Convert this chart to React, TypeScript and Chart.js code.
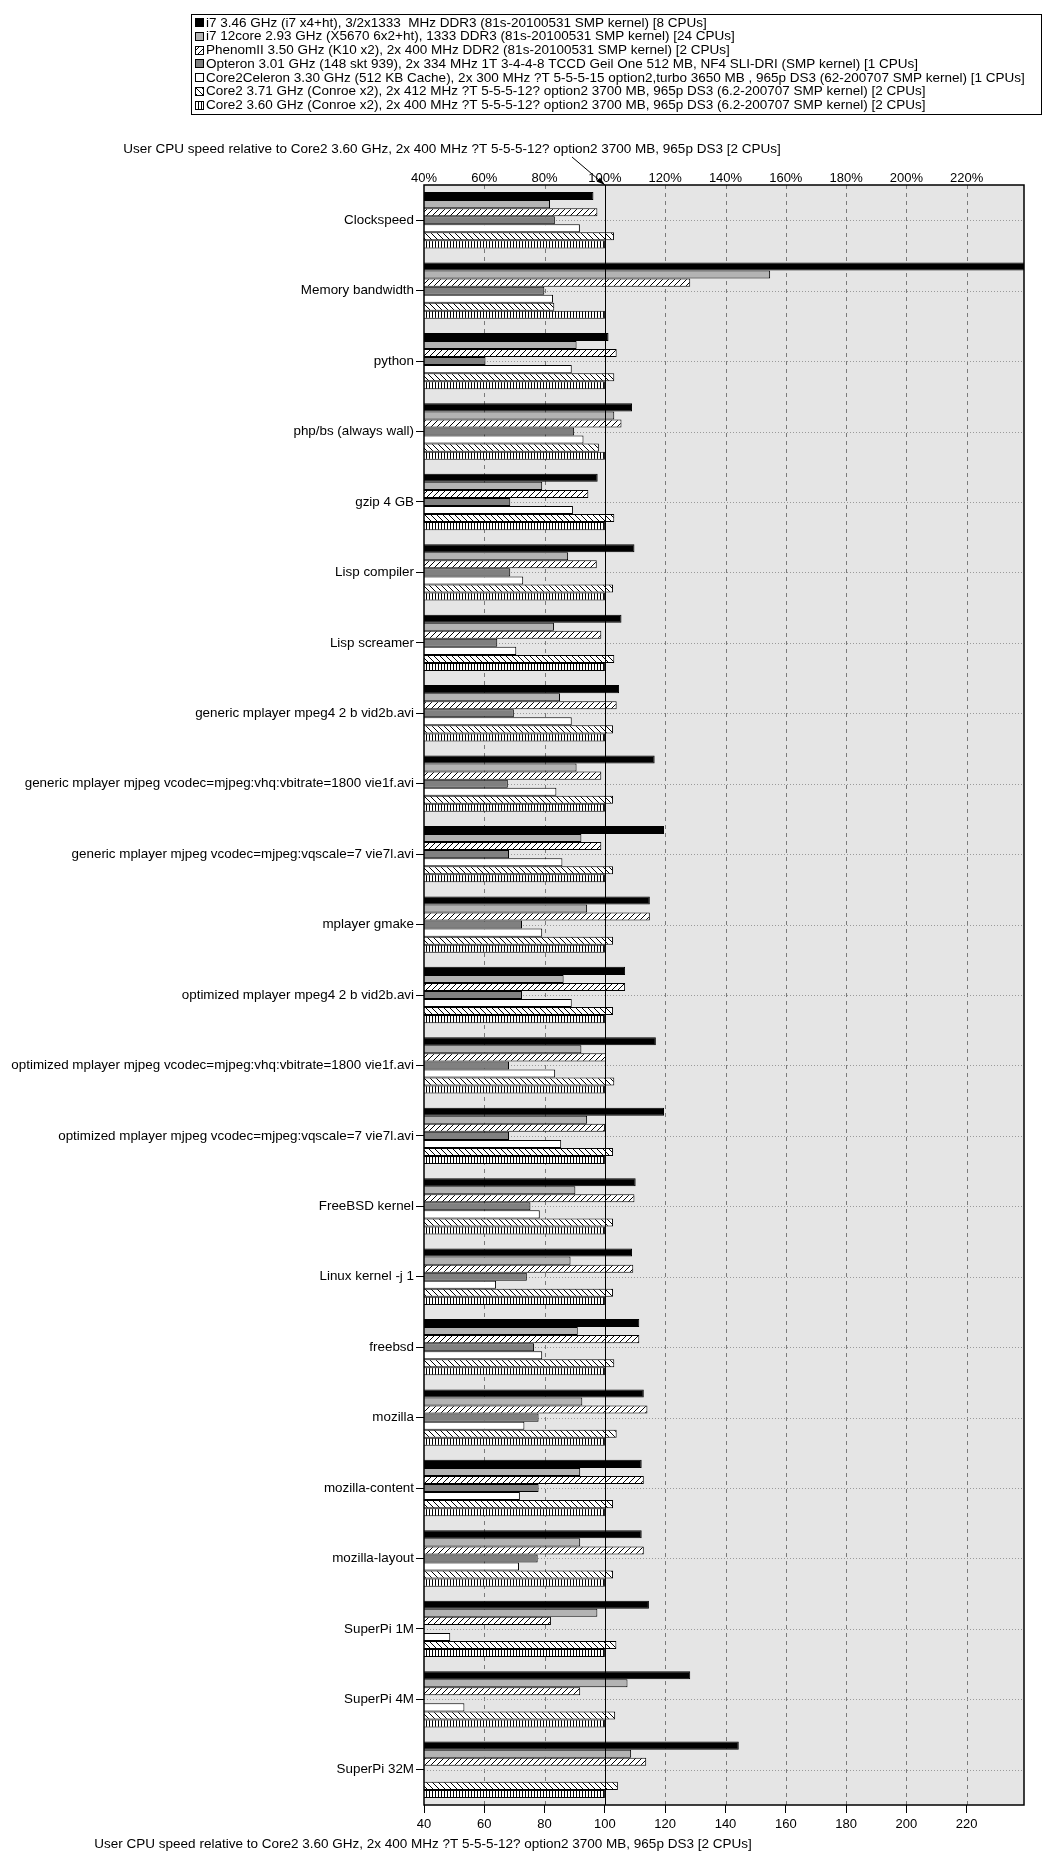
import React, { useEffect, useRef } from 'react';
import { Chart, registerables } from 'chart.js';

Chart.register(...registerables);

const FONT = '"Liberation Sans", Arial, Helvetica, sans-serif';

const categories = [
  'Clockspeed',
  'Memory bandwidth',
  'python',
  'php/bs (always wall)',
  'gzip 4 GB',
  'Lisp compiler',
  'Lisp screamer',
  'generic mplayer mpeg4 2 b vid2b.avi',
  'generic mplayer mjpeg vcodec=mjpeg:vhq:vbitrate=1800 vie1f.avi',
  'generic mplayer mjpeg vcodec=mjpeg:vqscale=7 vie7l.avi',
  'mplayer gmake',
  'optimized mplayer mpeg4 2 b vid2b.avi',
  'optimized mplayer mjpeg vcodec=mjpeg:vhq:vbitrate=1800 vie1f.avi',
  'optimized mplayer mjpeg vcodec=mjpeg:vqscale=7 vie7l.avi',
  'FreeBSD kernel',
  'Linux kernel -j 1',
  'freebsd',
  'mozilla',
  'mozilla-content',
  'mozilla-layout',
  'SuperPi 1M',
  'SuperPi 4M',
  'SuperPi 32M',
];

const seriesNames = [
  'i7 3.46 GHz (i7 x4+ht), 3/2x1333  MHz DDR3 (81s-20100531 SMP kernel) [8 CPUs]',
  'i7 12core 2.93 GHz (X5670 6x2+ht), 1333 DDR3 (81s-20100531 SMP kernel) [24 CPUs]',
  'PhenomII 3.50 GHz (K10 x2), 2x 400 MHz DDR2 (81s-20100531 SMP kernel) [2 CPUs]',
  'Opteron 3.01 GHz (148 skt 939), 2x 334 MHz 1T 3-4-4-8 TCCD Geil One 512 MB, NF4 SLI-DRI (SMP kernel) [1 CPUs]',
  'Core2Celeron 3.30 GHz (512 KB Cache), 2x 300 MHz ?T 5-5-5-15 option2,turbo 3650 MB , 965p DS3 (62-200707 SMP kernel) [1 CPUs]',
  'Core2 3.71 GHz (Conroe x2), 2x 412 MHz ?T 5-5-5-12? option2 3700 MB, 965p DS3 (6.2-200707 SMP kernel) [2 CPUs]',
  'Core2 3.60 GHz (Conroe x2), 2x 400 MHz ?T 5-5-5-12? option2 3700 MB, 965p DS3 (6.2-200707 SMP kernel) [2 CPUs]',
];

const i7_346 = [96.2, 245, 101.2, 109, 97.6, 109.8, 105.5, 104.7, 116.5, 119.6, 114.9, 106.7, 116.9, 119.6, 110.2, 109, 111.4, 112.9, 112.2, 112.2, 114.6, 128.3, 144.4];
const i7_12core = [81.8, 154.8, 90.6, 103.1, 79.2, 87.8, 83.1, 85.1, 90.6, 92.2, 94.1, 86.3, 92.2, 94.1, 90.2, 88.6, 91, 92.5, 91.8, 91.8, 97.5, 107.5, 108.7];
const phenom = [97.5, 128.3, 103.9, 105.5, 94.5, 97.3, 98.8, 103.9, 98.8, 98.8, 114.9, 106.7, 100.4, 100, 109.8, 109.4, 111.4, 114.1, 112.9, 112.9, 82.1, 91.8, 113.7];
const opteron = [83.4, 79.9, 60.4, 89.8, 68.6, 68.6, 64.3, 69.8, 67.8, 68.2, 72.5, 72.5, 68.2, 68.2, 75.3, 74.1, 76.5, 78, 78, 77.7, null, null, null];
const celeron = [91.7, 82.8, 89, 92.9, 89.4, 72.9, 70.6, 89, 83.9, 85.9, 79.2, 89, 83.5, 85.5, 78.4, 63.9, 79.2, 73.3, 71.8, 71.5, 48.7, 53.4, null];
const core2_371 = [103, 83.2, 103.1, 98, 103.1, 102.7, 103.1, 102.7, 102.7, 102.7, 102.7, 102.7, 103.1, 102.7, 102.7, 102.7, 103.1, 103.9, 102.7, 102.7, 103.8, 103.4, 104.3];
const core2_360 = [100, 100, 100, 100, 100, 100, 100, 100, 100, 100, 100, 100, 100, 100, 100, 100, 100, 100, 100, 100, 100, 100, 100];

const axisTitle = 'User CPU speed relative to Core2 3.60 GHz, 2x 400 MHz ?T 5-5-5-12? option2 3700 MB, 965p DS3 [2 CPUs]';
const xMin = 40;
const xMax = 239;
const xStep = 20;

function makePattern(kind: string): CanvasPattern | string {
  const c = document.createElement('canvas');
  const ctx = c.getContext('2d')!;
  if (kind === 'slash' || kind === 'backslash') {
    const s = 6;
    c.width = s;
    c.height = s;
    ctx.fillStyle = '#fff';
    ctx.fillRect(0, 0, s, s);
    ctx.strokeStyle = '#000';
    ctx.lineWidth = 1;
    ctx.beginPath();
    if (kind === 'slash') {
      ctx.moveTo(-1, s + 1); ctx.lineTo(s + 1, -1);
      ctx.moveTo(-2, 2); ctx.lineTo(2, -2);
      ctx.moveTo(s - 2, s + 2); ctx.lineTo(s + 2, s - 2);
    } else {
      ctx.moveTo(-1, -1); ctx.lineTo(s + 1, s + 1);
      ctx.moveTo(-2, s - 2); ctx.lineTo(2, s + 2);
      ctx.moveTo(s - 2, -2); ctx.lineTo(s + 2, 2);
    }
    ctx.stroke();
  } else {
    c.width = 3;
    c.height = 2;
    ctx.fillStyle = '#fff';
    ctx.fillRect(0, 0, 3, 2);
    ctx.fillStyle = '#000';
    ctx.fillRect(0, 0, 1, 2);
  }
  const p = ctx.createPattern(c, 'repeat');
  return p || '#fff';
}

export default function App() {
  const ref = useRef<HTMLCanvasElement>(null);

  useEffect(() => {
    const canvas = ref.current!;
    const fills: (string | CanvasPattern)[] = [
      '#000000',
      '#b3b3b3',
      makePattern('slash'),
      '#808080',
      '#ffffff',
      makePattern('backslash'),
      makePattern('vertical'),
    ];
    const seriesData = [i7_346, i7_12core, phenom, opteron, celeron, core2_371, core2_360];

    const decor = {
      id: 'decor',
      beforeDatasetsDraw(chart: any) {
        const { ctx, chartArea: a, scales } = chart;
        const x = scales.x;
        const y = scales.y;
        ctx.save();
        ctx.fillStyle = '#e5e5e5';
        ctx.fillRect(a.left, a.top, a.right - a.left, a.bottom - a.top);
        ctx.strokeStyle = '#7a7a7a';
        ctx.lineWidth = 1;
        ctx.setLineDash([4, 4]);
        for (let v = xMin + xStep; v < xMax; v += xStep) {
          if (v === 100) continue;
          const px = Math.round(x.getPixelForValue(v)) + 0.5;
          ctx.beginPath();
          ctx.moveTo(px, a.top);
          ctx.lineTo(px, a.bottom);
          ctx.stroke();
        }
        ctx.strokeStyle = '#9a9a9a';
        ctx.setLineDash([1, 2]);
        categories.forEach((_, i) => {
          const py = Math.round(y.getPixelForValue(i)) + 0.5;
          ctx.beginPath();
          ctx.moveTo(a.left, py);
          ctx.lineTo(a.right, py);
          ctx.stroke();
        });
        ctx.restore();
      },
      afterDatasetsDraw(chart: any) {
        const { ctx, chartArea: a, scales } = chart;
        const x = scales.x;
        ctx.save();
        ctx.strokeStyle = '#000';
        ctx.lineWidth = 1;
        const px = Math.round(x.getPixelForValue(100)) + 0.5;
        ctx.beginPath();
        ctx.moveTo(px, a.top);
        ctx.lineTo(px, a.bottom);
        ctx.stroke();
        ctx.lineWidth = 1.5;
        ctx.strokeRect(a.left, a.top, a.right - a.left, a.bottom - a.top);
        ctx.restore();
      },
      afterDraw(chart: any) {
        const { ctx, scales, chartArea: a } = chart;
        ctx.save();
        ctx.strokeStyle = '#000';
        ctx.lineWidth = 1;
        ctx.strokeRect(191.5, 14.5, 850, 100);
        ctx.font = '13.5px ' + FONT;
        ctx.textBaseline = 'middle';
        ctx.textAlign = 'left';
        seriesNames.forEach((name, i) => {
          const cy = 22.5 + i * 13.75;
          ctx.fillStyle = fills[i] as any;
          ctx.fillRect(195, Math.round(cy - 4.5), 9, 9);
          ctx.strokeStyle = '#000';
          ctx.strokeRect(195.5, Math.round(cy - 4.5) + 0.5, 8, 8);
          ctx.fillStyle = '#000';
          ctx.fillText(name, 206, cy + 0.5);
        });
        ctx.font = '13.5px ' + FONT;
        ctx.fillStyle = '#000';
        ctx.textAlign = 'center';
        ctx.fillText(axisTitle, 452, 149);
        ctx.fillText(axisTitle, 423, 1844);
        const tx = scales.x.getPixelForValue(100);
        const sx = 572, sy = 157, ex = tx, ey = a.top;
        ctx.beginPath();
        ctx.moveTo(sx, sy);
        ctx.lineTo(ex, ey);
        ctx.stroke();
        const ang = Math.atan2(ey - sy, ex - sx);
        const L = 9, W = 0.3;
        ctx.beginPath();
        ctx.moveTo(ex, ey);
        ctx.lineTo(ex - L * Math.cos(ang - W), ey - L * Math.sin(ang - W));
        ctx.lineTo(ex - L * Math.cos(ang + W), ey - L * Math.sin(ang + W));
        ctx.closePath();
        ctx.fill();
        ctx.restore();
      },
    };

    const chart = new Chart(canvas, {
      type: 'bar',
      data: {
        labels: categories,
        datasets: seriesData.map((d, i) => ({
          label: seriesNames[i],
          data: d,
          backgroundColor: fills[i] as any,
          borderColor: '#000',
          borderWidth: 1,
          borderSkipped: 'start',
          categoryPercentage: 0.8,
          barPercentage: 1.0,
        })),
      },
      options: {
        indexAxis: 'y',
        responsive: false,
        animation: false,
        devicePixelRatio: 1,
        layout: { padding: { left: 0, right: 22, top: 0, bottom: 0 } },
        plugins: {
          legend: { display: false },
          tooltip: { enabled: false },
          title: { display: false },
        },
        scales: {
          y: {
            type: 'category',
            position: 'left',
            offset: true,
            border: { display: false },
            grid: { display: true, offset: false, drawOnChartArea: false, drawTicks: true, tickLength: 8, color: '#000', lineWidth: 1 },
            ticks: { autoSkip: false, color: '#000', padding: 2, font: { family: FONT, size: 13.4 } },
            afterFit: (s: any) => { s.width = 424; },
          },
          x: {
            type: 'linear',
            position: 'bottom',
            min: xMin,
            max: xMax,
            border: { display: false },
            grid: { display: true, drawOnChartArea: false, drawTicks: true, tickLength: 8, color: '#000' },
            ticks: { stepSize: xStep, includeBounds: false, color: '#000', padding: 4, font: { family: FONT, size: 13 } },
            afterFit: (s: any) => { s.height = 48; },
          },
          x2: {
            type: 'linear',
            position: 'top',
            min: xMin,
            max: xMax,
            border: { display: false },
            grid: { display: false, drawTicks: false },
            ticks: { stepSize: xStep, includeBounds: false, color: '#000', padding: -1, font: { family: FONT, size: 13 }, callback: (v: any) => v + '%' },
            afterFit: (s: any) => { s.height = 185; },
          },
        },
      },
      plugins: [decor],
    } as any);
    return () => chart.destroy();
  }, []);

  return (
    <div style={{ position: 'absolute', left: 0, top: 0, width: 1046, height: 1853, background: '#fff' }}>
      <canvas ref={ref} width={1046} height={1853} style={{ display: 'block', width: 1046, height: 1853 }} />
    </div>
  );
}
